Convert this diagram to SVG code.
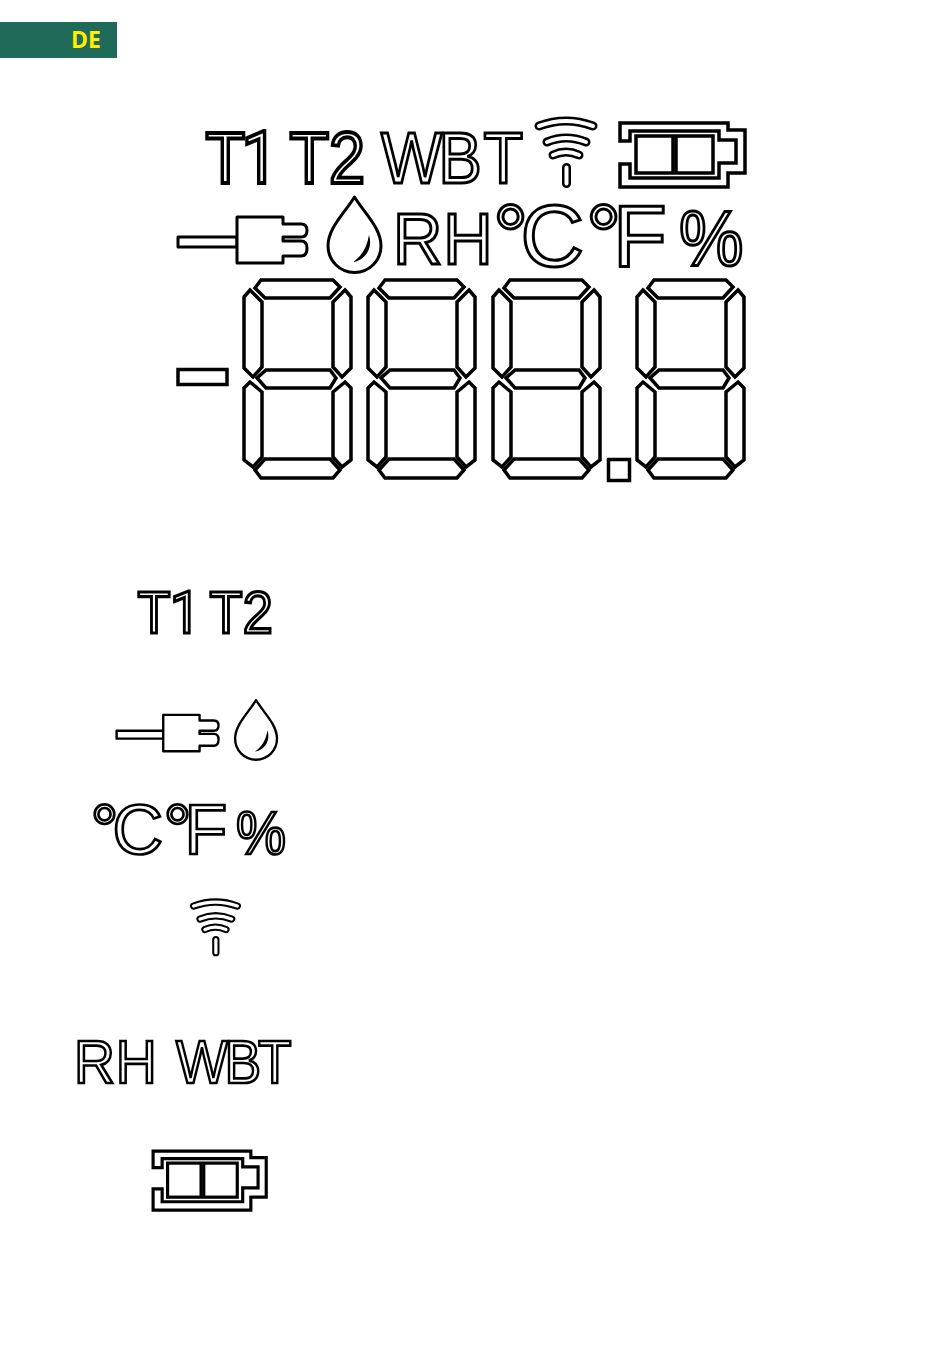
<svg xmlns="http://www.w3.org/2000/svg" width="950" height="1346" viewBox="0 0 950 1346">
<style>
.o{fill:#fff;stroke:#000;stroke-width:3.5;stroke-linejoin:miter}
.p{fill:#fff;stroke:#000;stroke-width:3;stroke-linejoin:round}
.t{font-family:"Liberation Sans",Arial,sans-serif;fill:#fff;stroke:#000;stroke-width:3;stroke-linejoin:miter}
.h{stroke-width:3.8}
.l{stroke-width:2.7}
.r{font-family:Roboto,sans-serif}
.s{fill:#fff;stroke:#000;stroke-width:3.5;stroke-linejoin:miter}
.wb{fill:none;stroke:#000;stroke-width:9;stroke-linecap:round}
.wf{fill:none;stroke:#fff;stroke-width:4;stroke-linecap:round}
</style>
<defs>
<g id="digit" class="s">
<polygon points="18,1 90,1 97,8 87,19 22,19 12,9"/>
<polygon points="7,11 19,23 19,88 10,98 1,89 1,18"/>
<polygon points="102,11 108,18 108,89 99,98 90,88 90,23"/>
<polygon points="23,91 87,91 93,99 87,109 23,109 14,99"/>
<polygon points="7,103 19,113 19,178 10,188 1,181 1,109"/>
<polygon points="102,103 108,109 108,181 99,188 90,178 90,113"/>
<polygon points="22,180 87,180 97,191 90,199 18,199 12,191"/>
</g>
<g id="plug">
<path class="p" d="M237,237H178V247H237Z"/>
<path class="p" d="M237,217H283V224H301Q307,224 307,230.500Q307,237 301,237H283V241H301Q307,241 307,248Q307,256 301,256H283V263H237Z"/>
</g>
<g id="drop">
<path class="p" d="M354.500,197C344,214 328,228 328,246A26.500,26.500 0 0 0 381,246C381,228 365,214 354.500,197Z"/>
<path fill="#000" d="M369,235C373,248 366,260 353,262C362,256 367,247 369,235Z"/>
</g>
<g id="wifi">
<path class="wb" d="M539,126Q566,116 593,126M547,142Q566,134 586,142M553,155Q566,149 579,155M566.500,167.500V183.500"/>
<path class="wf" d="M539,126Q566,116 593,126M547,142Q566,134 586,142M553,155Q566,149 579,155M566.500,167.500V183.500"/>
</g>
<g id="battery">
<path class="o" d="M620,123H728V130H745V173H728V187H620V164H630V178H719V163H736V140H719V131H630V141H620Z"/>
<rect class="o" x="636" y="136" width="37" height="37"/>
<rect class="o" x="676" y="136" width="37" height="37"/>
</g>
</defs>

<g id="badge">
<rect x="0" y="22" width="117" height="36" fill="#1f6a58"/>
<text x="71" y="47.500" font-family="'Open Sans',sans-serif" font-weight="700" font-size="23" fill="#ffee00">DE</text>
</g>

<g id="display">
<text class="t h" transform="translate(205.500,183) scale(.9,1)" x="0" font-size="72">T<tspan class="r" x="40">1</tspan></text>
<text class="t h" transform="translate(289.500,183) scale(.9,1)" x="0 44" font-size="72">T2</text>
<text class="t" transform="translate(381,183) scale(.9,1)" x="0 64 114" font-size="72">WBT</text>
<use href="#wifi"/>
<use href="#battery"/>
<use href="#plug"/>
<use href="#drop"/>
<text class="t" transform="translate(393,264) scale(.95,1)" x="0 53" font-size="72">RH</text>
<text class="t" x="493 520.500" y="266" font-size="88">°C</text>
<text class="t" x="586 613" y="266" font-size="88">°F</text>
<text class="t" x="679" y="266" font-size="78" textLength="64.500" lengthAdjust="spacingAndGlyphs">%</text>
<rect class="s" x="178" y="369.500" width="49" height="15"/>
<use href="#digit" x="243" y="279"/>
<use href="#digit" x="367" y="279"/>
<use href="#digit" x="492" y="279"/>
<use href="#digit" x="636" y="279"/>
<rect class="s" x="608.500" y="459.500" width="21" height="21"/>
</g>

<g id="legend-t1-t2">
<text class="t" transform="translate(137.500,632.500) scale(.9,1)" x="0" font-size="60" style="stroke-width:3.200">T<tspan class="r" x="36">1</tspan></text>
<text class="t" transform="translate(209.500,632.500) scale(.9,1)" x="0 37" font-size="60" style="stroke-width:3.200">T2</text>
</g>
<g id="legend-plug-drop">
<use href="#plug" transform="translate(-24,543.500) scale(.79)"/>
<use href="#drop" transform="translate(-24,544.500) scale(.79)"/>
</g>
<g id="legend-units">
<text class="t l" x="90.500 112.500" y="853.500" font-size="70">°C</text>
<text class="t l" x="163.500 184.500" y="853.500" font-size="70">°F</text>
<text class="t l" x="236" y="853.500" font-size="62" textLength="50" lengthAdjust="spacingAndGlyphs">%</text>
</g>
<g id="legend-wifi">
<use href="#wifi" transform="translate(-243,804) scale(.81)"/>
</g>
<g id="legend-rh-wbt">
<text class="t l" transform="translate(74,1083) scale(.93,1)" x="0 45" font-size="61">RH</text>
<text class="t l" transform="translate(176,1083) scale(.9,1)" x="0 54 91" font-size="61">WBT</text>
</g>
<g id="legend-battery">
<use href="#battery" transform="translate(-408,1038) scale(.905,.92)"/>
</g>
</svg>
